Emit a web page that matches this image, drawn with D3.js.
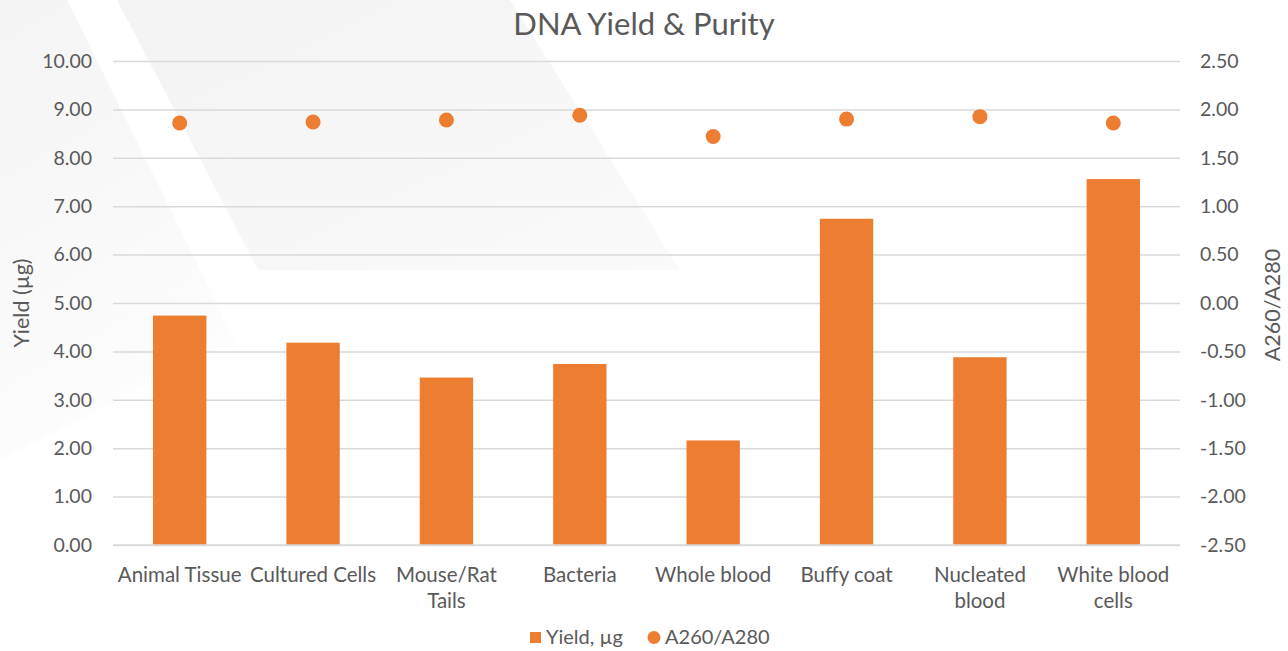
<!DOCTYPE html>
<html><head><meta charset="utf-8">
<script src="https://cdn.jsdelivr.net/npm/d3@7/dist/d3.min.js"></script>
<style>body{margin:0;background:#fff}svg{display:block}text{font-family:Lato,"Open Sans",sans-serif;fill:#595959}</style>
</head><body><svg id="c" width="1288" height="651"></svg>
<script>
const categories = ["Animal Tissue","Cultured Cells","Mouse/Rat Tails","Bacteria","Whole blood","Buffy coat","Nucleated blood","White blood cells"];
const categoryLines = [["Animal Tissue"],["Cultured Cells"],["Mouse/Rat","Tails"],["Bacteria"],["Whole blood"],["Buffy coat"],["Nucleated","blood"],["White blood","cells"]];
const yieldValues = [4.74, 4.18, 3.46, 3.74, 2.16, 6.74, 3.88, 7.56];
const purityValues = [1.86, 1.87, 1.89, 1.94, 1.72, 1.90, 1.925, 1.86];
const leftTicks = [0,1,2,3,4,5,6,7,8,9,10];
const rightTicks = [-2.5,-2,-1.5,-1,-0.5,0,0.5,1,1.5,2,2.5];
const title = "DNA Yield & Purity";
const seriesNames = ["Yield, µg","A260/A280"];
const axisTitles = ["Yield (µg)","A260/A280"];

(function(){
const svg = d3.select("#c");
const pL=113,pR=1180,pT=61,pB=545;
const orange="#ED7D31";
const fmt = d => d3.format(".2f")(d).replace("\u2212","-");

// faint background shapes
const defs = svg.append("defs");
const g1 = defs.append("linearGradient").attr("id","g1").attr("x1",0).attr("y1",0).attr("x2",0.3).attr("y2",1);
g1.append("stop").attr("offset",0).attr("stop-color","#f4f4f4");
g1.append("stop").attr("offset",1).attr("stop-color","#fdfdfd");
const g2 = defs.append("linearGradient").attr("id","g2").attr("x1",0).attr("y1",0).attr("x2",1).attr("y2",1);
g2.append("stop").attr("offset",0).attr("stop-color","#f3f3f3");
g2.append("stop").attr("offset",1).attr("stop-color","#fafafa");
svg.append("polygon").attr("points","0,0 67,0 235,340 0,460").attr("fill","url(#g1)");
svg.append("polygon").attr("points","117,0 510,0 680,270 258,270").attr("fill","url(#g2)");

const x = d3.scaleBand().domain(categories).range([pL,pR]).paddingInner(0.6).paddingOuter(0.3);
const y = d3.scaleLinear().domain([0,10]).range([pB,pT]);
const y2 = d3.scaleLinear().domain([-2.5,2.5]).range([pB,pT]);

// gridlines
const gl = svg.append("g").attr("transform",`translate(${pL},0)`)
  .call(d3.axisLeft(y).tickValues(leftTicks).tickSize(-(pR-pL)).tickFormat(""));
gl.select(".domain").remove();
gl.selectAll("line").attr("stroke","#d9d9d9").attr("stroke-width",1.5);

// left tick labels
const la = svg.append("g").attr("transform",`translate(${pL},0)`)
  .call(d3.axisLeft(y).tickValues(leftTicks).tickSize(0).tickPadding(21).tickFormat(fmt));
la.select(".domain").remove();
la.selectAll("text").style("font-size","19.5px").attr("fill","#595959").attr("font-family",null);

// right tick labels
const ra = svg.append("g").attr("transform",`translate(${pR},0)`)
  .call(d3.axisRight(y2).tickValues(rightTicks).tickSize(0).tickPadding(20).tickFormat(fmt));
ra.select(".domain").remove();
ra.selectAll("text").style("font-size","19.5px").attr("fill","#595959").attr("font-family",null);

// bars
svg.append("g").selectAll("rect").data(categories).join("rect")
  .attr("x",d=>x(d)).attr("width",x.bandwidth())
  .attr("y",(d,i)=>y(yieldValues[i])).attr("height",(d,i)=>y(0)-y(yieldValues[i]))
  .attr("fill",orange);

// baseline
svg.append("line").attr("x1",pL).attr("x2",pR).attr("y1",pB).attr("y2",pB)
  .attr("stroke","#d9d9d9").attr("stroke-width",1.5);

// dots
svg.append("g").selectAll("circle").data(categories).join("circle")
  .attr("cx",d=>x(d)+x.bandwidth()/2).attr("cy",(d,i)=>y2(purityValues[i])).attr("r",7.5)
  .attr("fill",orange);

// category labels
const cl = svg.append("g");
categories.forEach((c,i)=>{
  const cx = x(c)+x.bandwidth()/2;
  const t = cl.append("text").attr("x",cx).attr("y",582)
    .attr("text-anchor","middle").style("font-size","20.5px");
  categoryLines[i].forEach((ln,j)=>{
    t.append("tspan").attr("x",cx).attr("dy",j===0?0:26).text(ln);
  });
});

// title
svg.append("text").attr("x",644).attr("y",35).attr("text-anchor","middle")
  .style("font-size","31px").text(title);

// axis titles
svg.append("text").attr("transform","translate(29,303) rotate(-90)").attr("text-anchor","middle")
  .style("font-size","21.5px").text(axisTitles[0]);
svg.append("text").attr("transform","translate(1280,305) rotate(-90)").attr("text-anchor","middle")
  .style("font-size","21.5px").text(axisTitles[1]);

// legend
const lg = svg.append("g");
lg.append("rect").attr("x",530).attr("y",632).attr("width",11).attr("height",11).attr("fill",orange);
lg.append("text").attr("x",546).attr("y",644).style("font-size","20px").text(seriesNames[0]);
lg.append("circle").attr("cx",654).attr("cy",637.5).attr("r",6.5).attr("fill",orange);
lg.append("text").attr("x",665).attr("y",644).style("font-size","20px").text(seriesNames[1]);
})();
</script></body></html>
